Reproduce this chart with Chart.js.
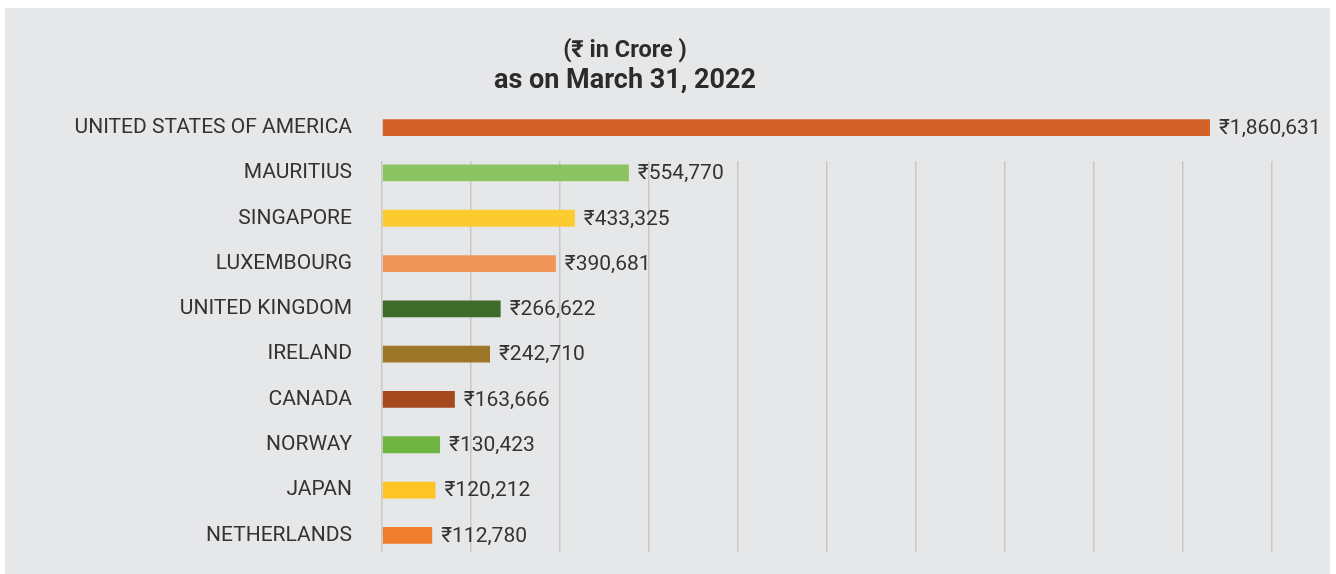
<!DOCTYPE html>
<html><head><meta charset="utf-8">
<script src="https://cdn.jsdelivr.net/npm/chart.js@4.4.1/dist/chart.umd.min.js"></script>
<style>
html,body{margin:0;padding:0;background:#fff;width:1336px;height:574px;overflow:hidden}
#box{position:absolute;left:5px;top:8px;width:1325px;height:566px;background:#e6e7e9}
canvas{display:block}
</style></head><body>
<div id="box"><canvas id="c" width="1325" height="566"></canvas></div>
<script>
const categories = ["UNITED STATES OF AMERICA","MAURITIUS","SINGAPORE","LUXEMBOURG","UNITED KINGDOM","IRELAND","CANADA","NORWAY","JAPAN","NETHERLANDS"];
const values = [1860631, 554770, 433325, 390681, 266622, 242710, 163666, 130423, 120212, 112780];
const barColors = ["#D5612A","#8DC463","#FCCB2F","#F1965B","#3E6B2A","#9C7629","#A5491F","#6EB443","#FDC423","#EF7D2D"];
const titleLines = ["(\u20B9 in Crore )", "as on March 31, 2022"];
const xMax = 2000000;
const xStep = 200000;

const BG = "#e6e7e9";
const FONT = "Roboto, 'DejaVu Sans', sans-serif";

const maskPlugin = {
  id: 'mask',
  beforeDatasetsDraw(chart) {
    const ctx = chart.ctx, y = chart.scales.y, a = chart.chartArea;
    const band = y.getPixelForValue(1) - y.getPixelForValue(0);
    const topEnd = y.getPixelForValue(1) - band * 0.26;
    const lastY = y.getPixelForValue(categories.length - 1) + band * 0.37;
    ctx.save();
    ctx.fillStyle = BG;
    ctx.fillRect(a.left - 3, a.top - 2, a.right - a.left + 6, topEnd - a.top + 2);
    ctx.fillRect(a.left - 3, lastY, a.right - a.left + 6, a.bottom - lastY + 3);
    ctx.restore();
  }
};

const labelPlugin = {
  id: 'valueLabels',
  afterDatasetsDraw(chart) {
    const ctx = chart.ctx;
    const meta = chart.getDatasetMeta(0);
    ctx.save();
    ctx.font = "21px " + FONT;
    ctx.fillStyle = "#333333";
    ctx.textAlign = "left";
    ctx.textBaseline = "middle";
    meta.data.forEach((bar, i) => {
      const txt = "\u20B9" + values[i].toLocaleString('en-US');
      ctx.fillText(txt, bar.x + 9, bar.y + 1);
    });
    ctx.restore();
  }
};

const titlePlugin = {
  id: 'titleLines',
  afterDraw(chart) {
    const ctx = chart.ctx;
    ctx.save();
    ctx.fillStyle = "#2b2b2b";
    ctx.textAlign = "center";
    ctx.textBaseline = "alphabetic";
    ctx.font = "bold 23.5px " + FONT;
    ctx.fillText(titleLines[0], 620, 49);
    ctx.font = "bold 27px " + FONT;
    ctx.fillText(titleLines[1], 620, 80);
    ctx.restore();
  }
};

function draw() {
  new Chart(document.getElementById('c'), {
    type: 'bar',
    data: {
      labels: categories,
      datasets: [{
        data: values,
        backgroundColor: barColors,
        borderWidth: 0,
        categoryPercentage: 1,
        barPercentage: 0.37
      }]
    },
    options: {
      indexAxis: 'y',
      responsive: false,
      animation: false,
      devicePixelRatio: 1,
      layout: { padding: { top: 97, right: 58, bottom: 16, left: 0 } },
      plugins: { legend: { display: false }, title: { display: false }, tooltip: { enabled: false } },
      scales: {
        x: {
          min: 0, max: xMax,
          ticks: { display: false, stepSize: xStep },
          grid: { color: "#c8c8c8", lineWidth: 1.5, drawTicks: false },
          border: { display: false },
          afterFit(scale) { scale.height = 0; scale.paddingLeft = 0; scale.paddingRight = 0; }
        },
        y: {
          ticks: { color: "#333333", font: { family: FONT, size: 21 }, padding: 30 },
          grid: { display: false, drawTicks: false },
          border: { display: false },
          afterFit(scale) { scale.width = 377; scale.paddingTop = 0; scale.paddingBottom = 0; }
        }
      }
    },
    plugins: [maskPlugin, labelPlugin, titlePlugin]
  });
}
if (document.fonts && document.fonts.load) {
  Promise.all([document.fonts.load("18px Roboto"), document.fonts.load("bold 24px Roboto")]).then(draw, draw);
} else { draw(); }
</script>
</body></html>
